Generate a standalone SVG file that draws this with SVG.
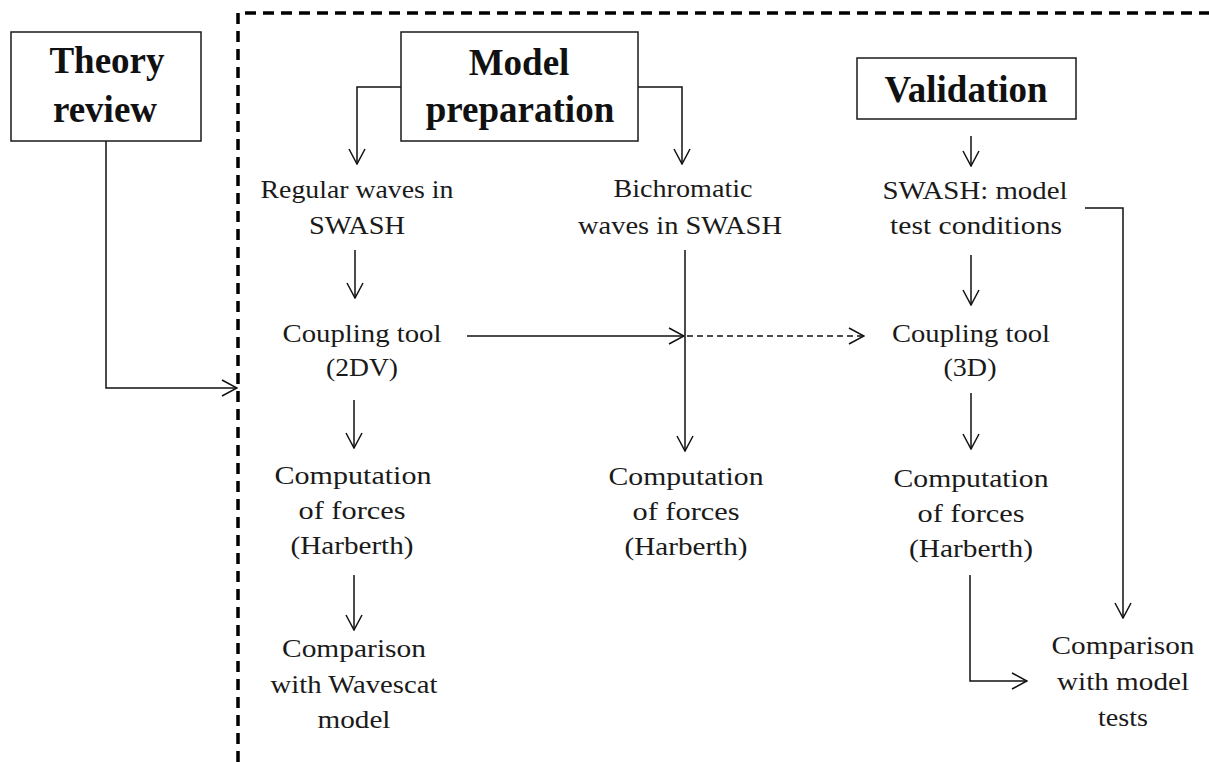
<svg xmlns="http://www.w3.org/2000/svg" width="1209" height="762" viewBox="0 0 1209 762">
<style>
  .box{fill:#fff;stroke:#1a1a1a;stroke-width:1.5}
  .title{font-family:"Liberation Serif","Times New Roman",serif;font-weight:bold;font-size:37px;fill:#111;text-anchor:middle}
  .t{font-family:"Liberation Serif","Times New Roman",serif;font-size:25px;fill:#1a1a1a;text-anchor:middle}
  .c{fill:none;stroke:#111;stroke-width:1.5}
  .d{stroke-dasharray:6 4}
  .frame{fill:none;stroke:#000;stroke-width:3.5;stroke-dasharray:11 7}
</style>
<defs>
  <marker id="arr" markerUnits="userSpaceOnUse" viewBox="0 0 17 18" refX="16" refY="9" markerWidth="17" markerHeight="18" orient="auto">
    <path d="M1,1 L16,9 L1,17" fill="none" stroke="#111" stroke-width="1.5" stroke-dasharray="none"/>
  </marker>
</defs>
<rect width="1209" height="762" fill="#fff"/>
<path class="frame" d="M238,762 V13 H1209"/>

<g id="connectors">
  <path class="c" d="M106,141 V388 H237" marker-end="url(#arr)"/>
  <path class="c" d="M401,87 H357 V164" marker-end="url(#arr)"/>
  <path class="c" d="M638,87 H682 V164" marker-end="url(#arr)"/>
  <path class="c" d="M971,136 V166" marker-end="url(#arr)"/>
  <path class="c" d="M355,250 V298" marker-end="url(#arr)"/>
  <path class="c" d="M467,336 H684" marker-end="url(#arr)"/>
  <path class="c d" d="M687,336 H864" marker-end="url(#arr)"/>
  <path class="c" d="M685,250 V451" marker-end="url(#arr)"/>
  <path class="c" d="M971,255 V305" marker-end="url(#arr)"/>
  <path class="c" d="M1085,208 H1123 V618" marker-end="url(#arr)"/>
  <path class="c" d="M354,400 V448" marker-end="url(#arr)"/>
  <path class="c" d="M354,575 V630" marker-end="url(#arr)"/>
  <path class="c" d="M971,393 V449" marker-end="url(#arr)"/>
  <path class="c" d="M970,575 V681 H1027" marker-end="url(#arr)"/>
</g>

<g id="theory">
  <rect class="box" x="11" y="32" width="190" height="109"/>
  <text class="title" x="107" y="73">Theory</text>
  <text class="title" x="105" y="122">review</text>
</g>
<g id="model">
  <rect class="box" x="401" y="32" width="237" height="109"/>
  <text class="title" x="519" y="75">Model</text>
  <text class="title" x="520" y="122">preparation</text>
</g>
<g id="validation">
  <rect class="box" x="857" y="58" width="219" height="61"/>
  <text class="title" x="966" y="102">Validation</text>
</g>

<g id="regular">
  <text class="t" x="357" y="198" textLength="193" lengthAdjust="spacingAndGlyphs">Regular waves in</text>
  <text class="t" x="357" y="234" textLength="96" lengthAdjust="spacingAndGlyphs">SWASH</text>
</g>
<g id="bichromatic">
  <text class="t" x="683" y="197" textLength="139" lengthAdjust="spacingAndGlyphs">Bichromatic</text>
  <text class="t" x="680" y="234" textLength="204" lengthAdjust="spacingAndGlyphs">waves in SWASH</text>
</g>
<g id="swash-test">
  <text class="t" x="975" y="199" textLength="185" lengthAdjust="spacingAndGlyphs">SWASH: model</text>
  <text class="t" x="976" y="234" textLength="172" lengthAdjust="spacingAndGlyphs">test conditions</text>
</g>
<g id="coupling-2dv">
  <text class="t" x="362" y="342" textLength="159" lengthAdjust="spacingAndGlyphs">Coupling tool</text>
  <text class="t" x="362" y="376" textLength="72" lengthAdjust="spacingAndGlyphs">(2DV)</text>
</g>
<g id="coupling-3d">
  <text class="t" x="971" y="342" textLength="158" lengthAdjust="spacingAndGlyphs">Coupling tool</text>
  <text class="t" x="970" y="376" textLength="53" lengthAdjust="spacingAndGlyphs">(3D)</text>
</g>
<g id="forces-1">
  <text class="t" x="353" y="484" textLength="157" lengthAdjust="spacingAndGlyphs">Computation</text>
  <text class="t" x="352" y="519" textLength="107" lengthAdjust="spacingAndGlyphs">of forces</text>
  <text class="t" x="352" y="554" textLength="123" lengthAdjust="spacingAndGlyphs">(Harberth)</text>
</g>
<g id="forces-2">
  <text class="t" x="686" y="485" textLength="155" lengthAdjust="spacingAndGlyphs">Computation</text>
  <text class="t" x="686" y="520" textLength="107" lengthAdjust="spacingAndGlyphs">of forces</text>
  <text class="t" x="686" y="555" textLength="123" lengthAdjust="spacingAndGlyphs">(Harberth)</text>
</g>
<g id="forces-3">
  <text class="t" x="971" y="487" textLength="155" lengthAdjust="spacingAndGlyphs">Computation</text>
  <text class="t" x="971" y="522" textLength="107" lengthAdjust="spacingAndGlyphs">of forces</text>
  <text class="t" x="971" y="557" textLength="124" lengthAdjust="spacingAndGlyphs">(Harberth)</text>
</g>
<g id="comparison-wavescat">
  <text class="t" x="354" y="657" textLength="144" lengthAdjust="spacingAndGlyphs">Comparison</text>
  <text class="t" x="354" y="693" textLength="167" lengthAdjust="spacingAndGlyphs">with Wavescat</text>
  <text class="t" x="354" y="728" textLength="73" lengthAdjust="spacingAndGlyphs">model</text>
</g>
<g id="comparison-tests">
  <text class="t" x="1123" y="654" textLength="143" lengthAdjust="spacingAndGlyphs">Comparison</text>
  <text class="t" x="1123" y="690" textLength="132" lengthAdjust="spacingAndGlyphs">with model</text>
  <text class="t" x="1123" y="726" textLength="50" lengthAdjust="spacingAndGlyphs">tests</text>
</g>
</svg>
